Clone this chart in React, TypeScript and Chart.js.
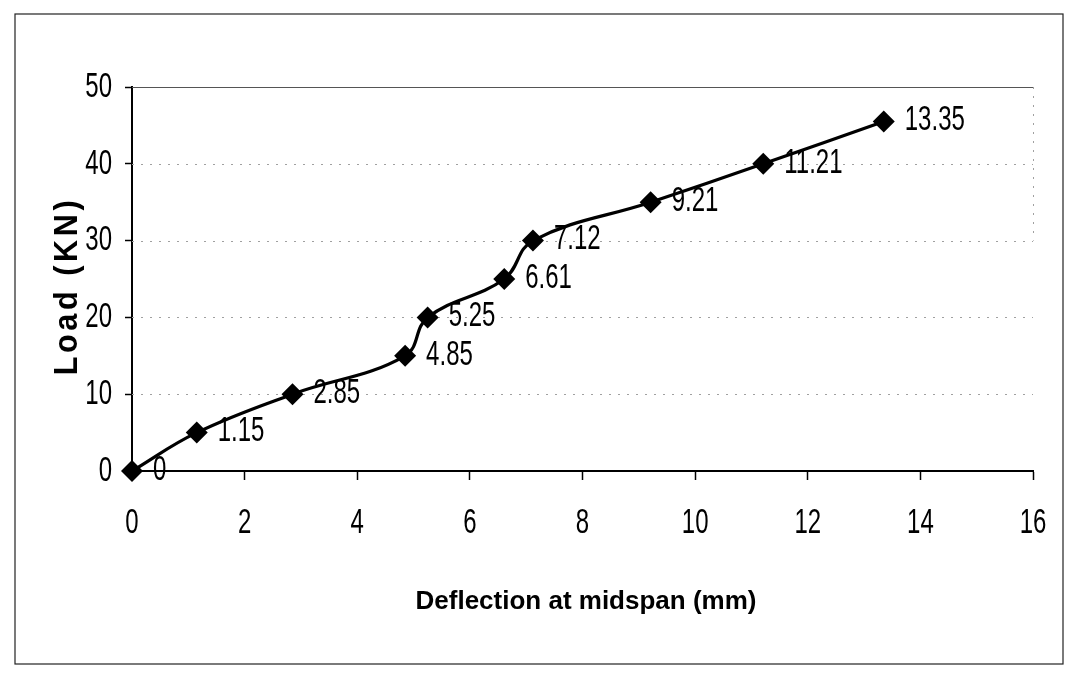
import React, { useEffect, useRef } from "react";
import { Chart, registerables } from "chart.js";

Chart.register(...registerables);

const deflection = [0, 1.15, 2.85, 4.85, 5.25, 6.61, 7.12, 9.21, 11.21, 13.35];
const load = [0, 5, 10, 15, 20, 25, 30, 35, 40, 45.5];
const pointLabels = ["0", "1.15", "2.85", "4.85", "5.25", "6.61", "7.12", "9.21", "11.21", "13.35"];
const xTicks = [0, 2, 4, 6, 8, 10, 12, 14, 16];
const yTicks = [0, 10, 20, 30, 40, 50];
const xTitle = "Deflection at midspan (mm)";
const yTitle = "Load (KN)";

const FONT = "'Liberation Sans', Arial, sans-serif";

function narrowText(ctx: any, text: string, x: number, y: number, align: string) {
  ctx.save();
  ctx.translate(x, y);
  ctx.scale(0.8, 1.18);
  ctx.textAlign = align;
  ctx.textBaseline = "middle";
  ctx.fillText(text, 0, 0);
  ctx.restore();
}

const decor = {
  id: "decor",
  beforeDatasetsDraw(chart: any) {
    const { ctx, chartArea: a, scales } = chart;
    const y = scales.y;
    ctx.save();
    ctx.strokeStyle = "#a0a0a0";
    ctx.lineWidth = 1;
    ctx.setLineDash([2, 7]);
    [10, 20, 30, 40].forEach((v) => {
      const py = Math.round(y.getPixelForValue(v)) + 0.5;
      ctx.beginPath();
      ctx.moveTo(a.left, py);
      ctx.lineTo(a.right, py);
      ctx.stroke();
    });
    ctx.beginPath();
    ctx.moveTo(a.right + 0.5, a.top);
    ctx.lineTo(a.right + 0.5, y.getPixelForValue(30));
    ctx.stroke();
    ctx.setLineDash([]);
    ctx.strokeStyle = "#555";
    ctx.lineWidth = 1.2;
    ctx.beginPath();
    ctx.moveTo(a.left, a.top + 0.5);
    ctx.lineTo(a.right, a.top + 0.5);
    ctx.stroke();
    ctx.restore();
  },
  afterDatasetsDraw(chart: any) {
    const { ctx, scales, chartArea: a } = chart;
    const meta = chart.getDatasetMeta(0);
    ctx.save();
    ctx.fillStyle = "#000";
    ctx.font = `30px ${FONT}`;
    meta.data.forEach((pt: any, i: number) => {
      narrowText(ctx, pointLabels[i], pt.x + 21, pt.y - 1, "left");
    });
    xTicks.forEach((v) => {
      narrowText(ctx, String(v), scales.x.getPixelForValue(v), a.bottom + 52, "center");
    });
    yTicks.forEach((v) => {
      narrowText(ctx, String(v), a.left - 20, scales.y.getPixelForValue(v), "right");
    });
    ctx.restore();
  },
  afterDraw(chart: any) {
    const { ctx } = chart;
    ctx.save();
    ctx.fillStyle = "#000";
    ctx.font = `bold 26px ${FONT}`;
    ctx.textAlign = "center";
    ctx.textBaseline = "middle";
    ctx.fillText(xTitle, 578, 594);
    ctx.translate(60, 278);
    ctx.rotate(-Math.PI / 2);
    ctx.scale(0.9, 1);
    ctx.font = `bold 34px ${FONT}`;
    (ctx as any).letterSpacing = "4px";
    ctx.fillText(yTitle, 0, 0);
    ctx.restore();
    ctx.save();
    ctx.strokeStyle = "#222";
    ctx.lineWidth = 1.2;
    ctx.strokeRect(7, 6, 1048, 650);
    ctx.restore();
  },
};

export default function App() {
  const ref = useRef<HTMLCanvasElement | null>(null);
  useEffect(() => {
    if (!ref.current) return;
    const chart = new Chart(ref.current, {
      type: "line",
      data: {
        datasets: [
          {
            data: deflection.map((x, i) => ({ x, y: load[i] })),
            borderColor: "#000",
            backgroundColor: "#000",
            borderWidth: 3.2,
            pointStyle: "rectRot",
            pointRadius: 11,
            pointBorderWidth: 0,
            pointBackgroundColor: "#000",
            tension: 0.4,
            fill: false,
            clip: false,
          },
        ],
      },
      options: {
        animation: false,
        responsive: false,
        maintainAspectRatio: false,
        layout: { padding: { left: 0, right: 33, top: 79, bottom: 0 } },
        plugins: { legend: { display: false }, tooltip: { enabled: false }, title: { display: false } },
        scales: {
          x: {
            type: "linear",
            min: 0,
            max: 16,
            ticks: { stepSize: 2, color: "rgba(0,0,0,0)", font: { size: 20 }, padding: 20 },
            grid: { display: true, drawOnChartArea: false, drawTicks: true, tickLength: 9, color: "#000", tickWidth: 1.5 },
            border: { display: true, color: "#000", width: 2 },
            afterFit: (s: any) => {
              s.height = 199;
            },
          },
          y: {
            type: "linear",
            min: 0,
            max: 50,
            ticks: { stepSize: 10, color: "rgba(0,0,0,0)", font: { size: 20 }, padding: 12 },
            grid: { display: true, drawOnChartArea: false, drawTicks: true, tickLength: 7, color: "#000", tickWidth: 1.5 },
            border: { display: true, color: "#000", width: 2 },
            afterFit: (s: any) => {
              s.width = 124;
            },
          },
        },
      },
      plugins: [decor],
    } as any);
    return () => chart.destroy();
  }, []);
  return (
    <div style={{ width: 1058, height: 662 }}>
      <canvas ref={ref} width={1058} height={662} style={{ display: "block" }} />
    </div>
  );
}
